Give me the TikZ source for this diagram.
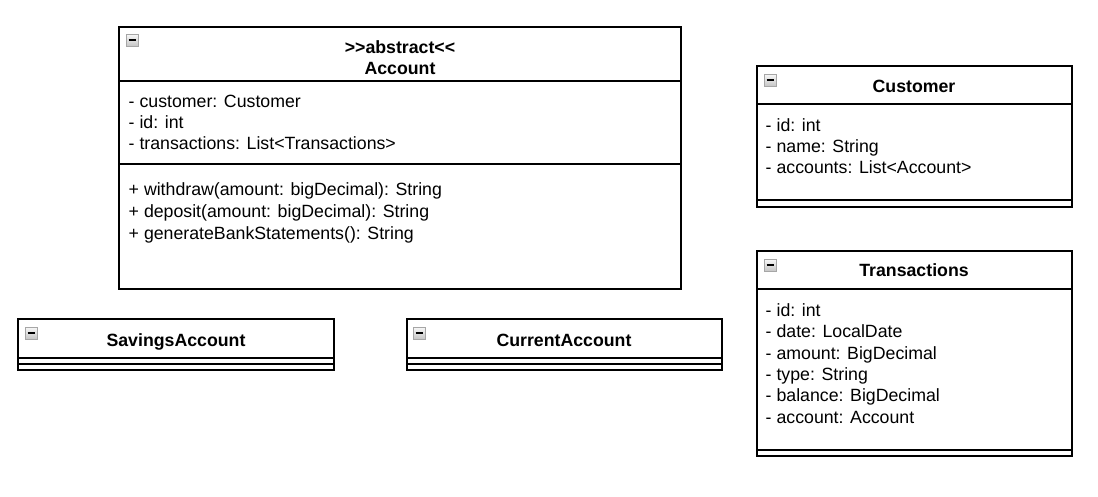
\documentclass[tikz,border=0pt]{standalone}
\usepackage{fontspec}
\setmainfont{Liberation Sans}[Ligatures=TeXOff]

\begin{document}
\begin{tikzpicture}[x=0.75pt, y=-0.75pt, line width=1.1pt,
  font=\fontsize{13.3}{15}\selectfont,
  title/.style={font=\fontsize{13.3}{15}\selectfont\bfseries, anchor=base, inner sep=0pt},
  member/.style={anchor=base west, inner sep=0pt},
  icon/.style={draw=gray!70, line width=0.6pt, top color=gray!5, bottom color=gray!45}]
\useasboundingbox (0,0) rectangle (1098,496);
% Abstract class Account
\coordinate (acctl) at (119,27);
\coordinate (accbr) at (681,289);
\draw (acctl) rectangle (accbr);
\draw (119,81) -- (681,81);
\draw (119,164) -- (681,164);
\node [title] (accstereo) at (400,53) {>>abstract<<};
\node [title] (accname) at (400,74) {Account};
\node [member] (acccustomer) at (128,107) {- customer: Customer};
\node [member] (accid) at (128,128) {- id: int};
\node [member] (acctrans) at (128,149) {- transactions: List<Transactions>};
\node [member] (accwithdraw) at (128,195) {+ withdraw(amount: bigDecimal): String};
\node [member] (accdeposit) at (128,217) {+ deposit(amount: bigDecimal): String};
\node [member] (accstatements) at (128,239) {+ generateBankStatements(): String};
% SavingsAccount and CurrentAccount
\draw (18,319) rectangle (334,370);
\draw (18,358) -- (334,358);
\draw (18,364) -- (334,364);
\node [title] (savname) at (176,346) {SavingsAccount};
\draw (407,319) rectangle (722,370);
\draw (407,358) -- (722,358);
\draw (407,364) -- (722,364);
\node [title] (curname) at (564,346) {CurrentAccount};
% Customer
\draw (757,66) rectangle (1072,207);
\draw (757,104) -- (1072,104);
\draw (757,200) -- (1072,200);
\node [title] (custname) at (914,92) {Customer};
\node [member] (custid) at (765,131) {- id: int};
\node [member] (custname2) at (765,152) {- name: String};
\node [member] (custaccounts) at (765,173) {- accounts: List<Account>};
% Transactions
\draw (757,251) rectangle (1072,456);
\draw (757,289) -- (1072,289);
\draw (757,450) -- (1072,450);
\node [title] (transname) at (914,276) {Transactions};
\node [member] (transid) at (765,316) {- id: int};
\node [member] (transdate) at (765,337) {- date: LocalDate};
\node [member] (transamount) at (765,359) {- amount: BigDecimal};
\node [member] (transtype) at (765,380) {- type: String};
\node [member] (transbalance) at (765,401) {- balance: BigDecimal};
\node [member] (transaccount) at (765,423) {- account: Account};
% Collapse icons
\foreach \x/\y in {126/34, 25/327, 413/327, 764/74, 764/259} {
  \draw [icon] (\x,\y) rectangle +(12,12);
  \draw [line width=1.2pt] (\x+2.5,\y+6) -- (\x+9.5,\y+6);
}
\end{tikzpicture}
\end{document}
